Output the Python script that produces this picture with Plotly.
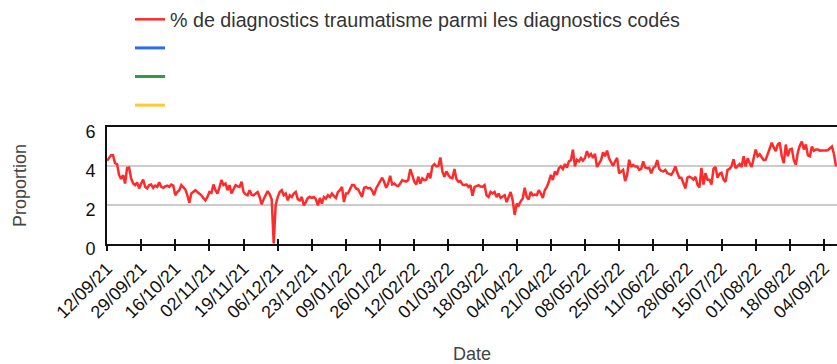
import pandas as pd
import plotly.graph_objects as go

# Daily share of trauma diagnoses (%) starting 12/09/2021
start_date = "2021-09-12"
values = [
    4.27, 4.40, 4.55, 4.55, 4.15, 4.10, 3.54,
    3.33, 3.54, 3.10, 3.90, 3.92, 3.37, 3.10,
    3.02, 3.16, 2.85, 3.10, 3.30, 2.93, 2.85,
    3.02, 3.05, 2.88, 2.99, 2.93, 3.16, 2.93,
    2.88, 2.95, 2.99, 2.93, 3.05, 3.00, 2.50,
    2.67, 2.76, 3.02, 2.93, 2.80, 2.50, 2.12,
    2.59, 2.70, 2.76, 2.67, 2.60, 2.50, 2.35,
    2.24, 2.41, 2.67, 2.62, 3.05, 2.76, 2.59,
    2.90, 3.28, 3.02, 3.10, 2.76, 3.02, 2.59,
    2.85, 3.02, 2.97, 2.93, 3.19, 2.67, 2.55,
    2.50, 2.76, 2.53, 2.50, 2.60, 2.67, 2.41,
    2.03, 2.30, 2.50, 2.71, 2.55, 2.30, 0.03,
    2.00, 2.41, 2.67, 2.76, 2.50, 2.59, 2.24,
    2.50, 2.41, 2.59, 2.67, 2.30, 2.24, 2.41,
    1.98, 2.15, 2.36, 2.41, 2.36, 2.41, 2.30,
    1.98, 2.36, 2.07, 2.41, 2.33, 2.50, 2.41,
    2.59, 2.45, 2.36, 2.67, 2.76, 2.93, 2.15,
    2.59, 2.60, 2.80, 3.02, 3.02, 2.85, 2.81,
    2.60, 2.41, 2.88, 2.93, 2.85, 2.88, 2.75,
    2.50, 2.85, 3.02, 3.23, 3.40, 3.19, 2.88,
    3.10, 3.50, 3.05, 3.10, 3.00, 2.97, 3.10,
    3.28, 3.23, 3.20, 3.28, 3.84, 3.54, 3.19,
    3.05, 3.45, 3.10, 3.37, 3.28, 3.30, 3.63,
    3.37, 3.98, 4.10, 3.98, 4.00, 4.44, 3.72,
    3.45, 3.72, 3.54, 3.40, 3.37, 3.85, 3.33,
    3.19, 3.23, 3.05, 3.02, 3.05, 2.93, 3.02,
    2.47, 2.93, 2.97, 3.02, 2.95, 2.93, 3.02,
    2.50, 2.41, 2.67, 2.59, 2.67, 2.41, 2.59,
    2.36, 2.45, 2.50, 2.15, 2.47, 2.67, 2.24,
    1.49, 2.07, 1.98, 2.19, 2.33, 2.88, 2.41,
    2.29, 2.67, 2.50, 2.53, 2.50, 2.76, 2.60,
    2.36, 2.76, 2.93, 3.19, 3.54, 3.28, 3.72,
    3.54, 3.89, 3.98, 3.85, 4.10, 3.92, 4.24,
    4.30, 4.84, 3.98, 4.32, 4.24, 4.41, 4.27,
    4.41, 4.76, 4.50, 4.62, 4.41, 4.62, 3.95,
    4.10, 4.30, 4.70, 4.50, 4.79, 4.40, 4.20,
    4.00, 4.24, 4.41, 3.63, 3.70, 3.80, 3.23,
    3.54, 4.32, 3.95, 4.06, 3.98, 3.98, 3.80,
    3.85, 4.24, 3.92, 3.89, 3.90, 3.63, 3.89,
    3.98, 4.30, 3.85, 3.75, 3.72, 3.80, 3.63,
    3.60, 3.55, 3.72, 3.98, 3.65, 3.40, 3.40,
    3.15, 2.85, 3.40, 3.45, 3.40, 3.30, 3.45,
    3.05, 2.90, 3.90, 3.05, 3.63, 3.30, 3.30,
    3.05, 3.85, 3.95, 3.40, 3.60, 3.65, 3.30,
    3.19, 3.80, 3.85, 4.00, 4.35, 3.89, 3.98,
    4.10, 3.95, 4.50, 3.98, 4.40, 4.15, 3.95,
    4.40, 4.84, 4.50, 4.60, 4.45, 4.30, 4.32,
    4.60, 4.85, 5.19, 4.95, 4.76, 5.10, 5.19,
    4.50, 4.15, 5.10, 4.50, 4.85, 4.88, 4.30,
    4.06, 4.70, 5.05, 5.25, 4.85, 5.10, 4.55,
    4.50, 5.00, 4.78, 4.84, 4.84, 4.79, 4.80,
    4.78, 4.79, 4.82, 4.90, 5.00, 4.60, 3.98,
]
dates = pd.date_range(start_date, periods=len(values), freq="D")

tick_labels = [
    "12/09/21", "29/09/21", "16/10/21", "02/11/21", "19/11/21", "06/12/21",
    "23/12/21", "09/01/22", "26/01/22", "12/02/22", "01/03/22", "18/03/22",
    "04/04/22", "21/04/22", "08/05/22", "25/05/22", "11/06/22", "28/06/22",
    "15/07/22", "01/08/22", "18/08/22", "04/09/22",
]
tick_vals = pd.to_datetime(tick_labels, format="%d/%m/%y")

y_ticks = [0, 2, 4, 6]

series_name = "% de diagnostics traumatisme parmi les diagnostics codés"
extra_colors = ["#2f6bf2", "#2f9a48", "#ffc933"]

FONT = "Liberation Sans, Arial, sans-serif"

fig = go.Figure()
fig.add_trace(go.Scatter(
    x=dates, y=values, mode="lines", name=series_name,
    line=dict(color="#ff2a2a", width=2.5), legendgroup="a",
))
for i, c in enumerate(extra_colors):
    fig.add_trace(go.Scatter(
        x=[None], y=[None], mode="lines", name=" ",
        line=dict(color=c, width=3), legendgroup=f"g{i}",
        xaxis="x2",
    ))

x_end = pd.Timestamp(start_date) + pd.Timedelta(hours=363.5 * 24)

fig.update_layout(
    width=837, height=364,
    margin=dict(l=107, r=0, t=127, b=120, autoexpand=False),
    paper_bgcolor="white", plot_bgcolor="white",
    font=dict(family=FONT, color="#222"),
    showlegend=True,
    legend=dict(
        x=(130 - 107) / 730, xanchor="left",
        y=(244 + 0) / 117, yanchor="top",
        orientation="v", tracegroupgap=0,
        font=dict(size=19.7, color="#333", family=FONT),
        bgcolor="rgba(0,0,0,0)",
    ),
    xaxis=dict(
        type="date", range=[pd.Timestamp(start_date), x_end],
        tickvals=tick_vals, ticktext=tick_labels, tickangle=-45,
        tickfont=dict(size=18, color="#111"),
        showline=True, linecolor="#111", linewidth=2, mirror=True,
        ticks="outside", ticklen=5, tickwidth=1.5, tickcolor="#111",
        showgrid=False, zeroline=False, automargin=True,
        title=dict(text="Date", font=dict(size=18, color="#444"), standoff=38),
    ),
    xaxis2=dict(
        type="date", overlaying="x", matches="x", side="bottom",
        tickvals=tick_vals, showticklabels=False,
        ticks="inside", ticklen=5, tickwidth=1.5, tickcolor="#111",
        showline=False, showgrid=False, zeroline=False, automargin=False,
    ),
    yaxis=dict(
        range=[0, 6], tickvals=y_ticks,
        tickfont=dict(size=18, color="#111"),
        showline=True, linecolor="#111", linewidth=2,
        showgrid=True, gridcolor="#cccccc", gridwidth=2,
        zeroline=False, ticks="", ticklabelstandoff=6, ticklabelshift=5,
        automargin=False,
        title=dict(text="Proportion", font=dict(size=18, color="#444"), standoff=54),
    ),
)

fig.write_html("out.html")
